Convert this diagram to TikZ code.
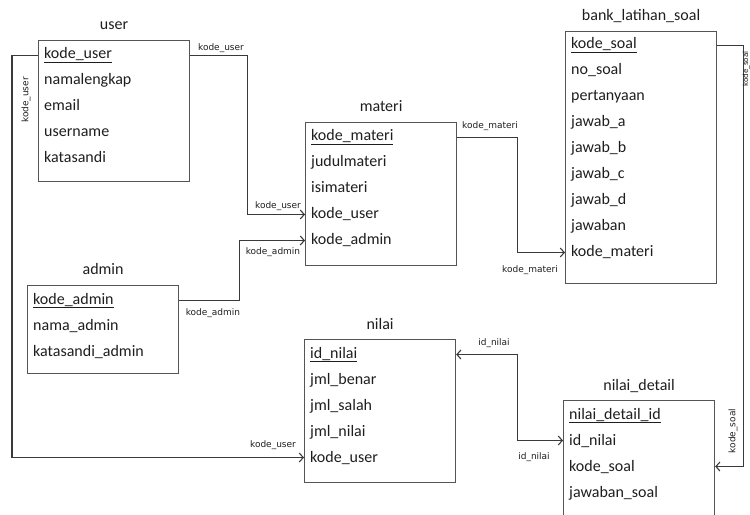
\documentclass[tikz,border=0pt]{standalone}
\usepackage{fontspec}
\setmainfont{Carlito}
\newfontfamily\lblfont{DejaVu Sans}
\usetikzlibrary{calc,arrows.meta,positioning}
\definecolor{ink}{HTML}{1E1E1E}
\definecolor{frame}{HTML}{555555}
\definecolor{wire}{HTML}{3A3A3A}
\tikzset{
  tbl/.style={draw=frame, line width=1.2pt, anchor=north west, minimum width=151bp, inner sep=0pt},
  ttl/.style={text=ink, font=\fontsize{16bp}{18bp}\selectfont, anchor=base, inner sep=0pt},
  fld/.style={text=ink, font=\fontsize{16bp}{18bp}\selectfont, anchor=base west, inner sep=0pt},
  rel/.style={draw=wire, line width=1.1pt, >={Straight Barb[length=4bp,width=9bp]}},
  lab/.style={text=ink, font=\lblfont\fontsize{9bp}{10bp}\selectfont, inner sep=0pt},
}
\begin{document}
\begin{tikzpicture}[x=1bp,y=-1bp]
  \useasboundingbox (0,0) rectangle (750,515);
  \clip (0,0) rectangle (750,515);
  % tables
  \node[tbl, minimum height=141bp] (user) at (38,40) {};
  \node[tbl, minimum height=143bp] (materi) at (305,122) {};
  \node[tbl, minimum height=252bp] (bank) at (565,31) {};
  \node[tbl, minimum height=88bp] (admin) at (27,285) {};
  \node[tbl, minimum height=143bp] (nilai) at (304,339) {};
  \node[tbl, minimum height=130bp] (detail) at (563,400) {};
  \foreach \N/\T in {user/user, materi/materi, bank/bank\_latihan\_soal,
                     admin/admin, nilai/nilai, detail/nilai\_detail}
    \node[ttl] (\N-t) at ([yshift=10bp]\N.north) {\T};
  % fields
  \foreach \F [count=\i] in {\underline{kode\_user},namalengkap,email,username,katasandi}
    \node[fld] (user-\i) at ($(user.north west)+(6,{26*\i-7})$) {\F};
  \foreach \F [count=\i] in {\underline{kode\_materi},judulmateri,isimateri,kode\_user,kode\_admin}
    \node[fld] (materi-\i) at ($(materi.north west)+(6,{26*\i-7})$) {\F};
  \foreach \F [count=\i] in {\underline{kode\_soal},no\_soal,pertanyaan,jawab\_a,jawab\_b,
                             jawab\_c,jawab\_d,jawaban,kode\_materi}
    \node[fld] (bank-\i) at ($(bank.north west)+(6,{26*\i-8})$) {\F};
  \foreach \F [count=\i] in {\underline{kode\_admin},nama\_admin,katasandi\_admin}
    \node[fld] (admin-\i) at ($(admin.north west)+(6,{26*\i-7})$) {\F};
  \foreach \F [count=\i] in {\underline{id\_nilai},jml\_benar,jml\_salah,jml\_nilai,kode\_user}
    \node[fld] (nilai-\i) at ($(nilai.north west)+(6,{26*\i-7})$) {\F};
  \foreach \F [count=\i] in {\underline{nilai\_detail\_id},id\_nilai,kode\_soal,jawaban\_soal}
    \node[fld] (detail-\i) at ($(detail.north west)+(6,{26*\i-7})$) {\F};
  % relations
  \draw[rel,->] (user.west |- user-1) -- ++(-26,0) |- (nilai.west |- nilai-5);
  \draw[rel,->] (user.east |- user-1) -- ++(57,0) |- (materi.west |- materi-4);
  \draw[rel,->] (admin.east |- admin-1) -- ++(60,0) |- (materi.west |- materi-5);
  \draw[rel,->] (materi.east |- materi-1) -- ++(60,0) |- (bank.west |- bank-9);
  \draw[rel,->] (bank.east |- bank-1) -- ++(26,0) |- (detail.east |- detail-3);
  \draw[rel,<->] (nilai.east |- nilai-1) -- ++(61,0) |- (detail.west |- detail-2);
  % relation labels
  \node[lab] (l1) at (221,48) {kode\_user};
  \node[lab, rotate=90] (l2) at (26,100) {kode\_user};
  \node[lab] (l3) at (278,206) {kode\_user};
  \node[lab] (l4) at (273,445) {kode\_user};
  \node[lab] (l5) at (273,252) {kode\_admin};
  \node[lab] (l6) at (213,313) {kode\_admin};
  \node[lab] (l7) at (490,126) {kode\_materi};
  \node[lab] (l8) at (530,270) {kode\_materi};
  \node[lab, rotate=90, scale=0.8] (l9) at (746.2,69) {kode\_soal};
  \node[lab, rotate=90] (l10) at (733,431) {kode\_soal};
  \node[lab] (l11) at (494,343) {id\_nilai};
  \node[lab] (l12) at (534,457) {id\_nilai};
\end{tikzpicture}
\end{document}
